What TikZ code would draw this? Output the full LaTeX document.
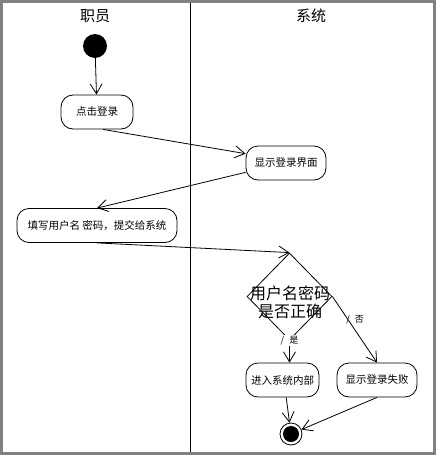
\documentclass[tikz,border=0pt]{standalone}
\usepackage{fontspec}
\newfontfamily\cjk{Noto Sans CJK SC}
\usetikzlibrary{shapes.geometric, arrows.meta}

\begin{document}
\begin{tikzpicture}[x=1pt, y=-1pt, font=\cjk\fontsize{10.5}{12}\selectfont,
    act/.style={draw, line width=0.8pt, rounded corners=12pt, minimum height=34pt, inner xsep=5pt},
    flow/.style={line width=0.8pt, -{Straight Barb[length=10pt, width=12pt, line width=0.8pt]}},
    guard/.style={font=\cjk\fontsize{9}{10}\selectfont, inner sep=1pt}]
          \useasboundingbox (0,0) rectangle (436,455);
          \draw[line width=3pt, color={rgb,255:red,128;green,128;blue,128}] (1.5,1.5) rectangle (434.5,453.5);
          \draw[line width=1pt] (190,3) -- (190,452);
          \node[font=\cjk\fontsize{15}{18}\selectfont] (staff) at (95,16) {职员};
          \node[font=\cjk\fontsize{15}{18}\selectfont] (sys) at (311,16) {系统};
          \node[circle, fill, minimum size=24pt, inner sep=0] (start) at (95,46) {};
          \node[act, minimum width=72pt] (click) at (97,112) {点击登录};
          \node[act, minimum width=80pt] (show) at (286,163) {显示登录界面};
          \node[act, minimum width=160pt] (fill) at (97,225.5) {填写用户名 密码，提交给系统};
          \node[diamond, draw, line width=0.8pt, minimum width=85pt, minimum height=87pt, inner sep=0] (dec) at (289.5,296.5) {};
          \node[font=\cjk\fontsize{16}{18}\selectfont, align=center, inner sep=0] (dectext) at (290,302) {用户名密码\\是否正确};
          \node[act, minimum width=71pt] (enter) at (282.5,380) {进入系统内部};
          \node[act, minimum width=80pt] (fail) at (377,380) {显示登录失败};
          \node[circle, draw, line width=0.8pt, minimum size=22pt, inner sep=0] (end) at (291,434) {};
          \node[circle, fill, minimum size=16pt, inner sep=0] (endin) at (end) {};
          \draw[flow] (start) -- (click);
          \draw[flow] (click.-71) -- (show.167);
          \draw[flow] (show.193) -- (fill.north);
          \draw[flow] (fill.south) -- (dec.north);
          \draw[flow] (dec.south) -- node[at start, guard, fill=white]{/\hspace{5pt}是} (dec.south |- enter.north);
          \draw[flow] (dec.east) -- node[pos=0.35, guard, anchor=west, xshift=-3pt]{/\hspace{5pt}否} (fail.north);
          \draw[flow] (enter.-78) -- (end);
          \draw[flow] (fail.south) -- (end);
        \end{tikzpicture}
\end{document}
